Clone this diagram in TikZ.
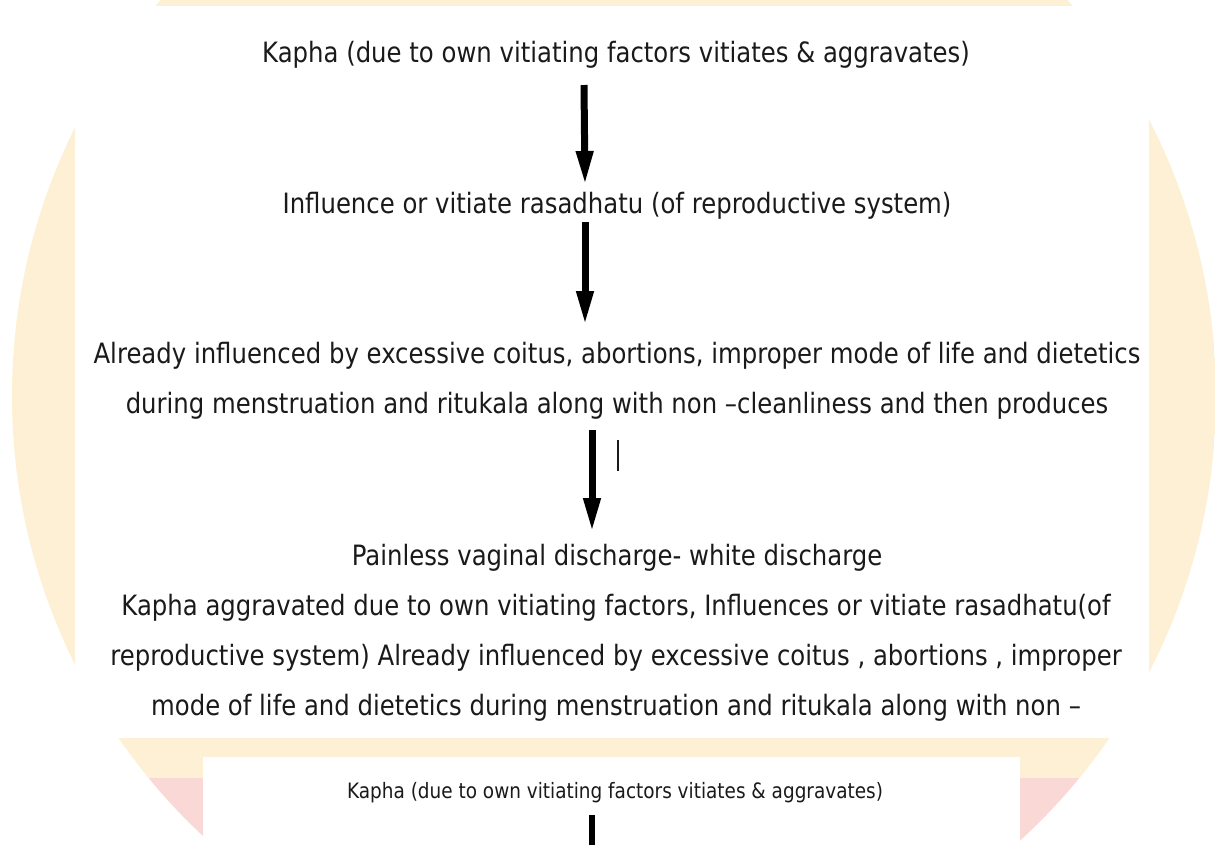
\documentclass[tikz,border=0pt]{standalone}
\usepackage{fontspec}
\setmainfont{DejaVu Sans}[FakeStretch=0.87]
\usepackage{xcolor}
\usetikzlibrary{arrows.meta}
\definecolor{wmorange}{RGB}{254,240,212}
\definecolor{wmpink}{RGB}{250,216,214}
\definecolor{inkgray}{RGB}{26,26,26}

\begin{document}
\begin{tikzpicture}[x=0.75pt,y=0.75pt,yscale=-1,xscale=1,
  flowtext/.style={inner sep=0pt, align=center, text=inkgray, font=\fontsize{21}{37.5}\selectfont},
  smalltext/.style={inner sep=0pt, align=center, text=inkgray, font=\fontsize{15.9}{28}\selectfont},
  bigarrow/.style={line width=5.25pt, -{Triangle[length=25.5pt, width=12pt]}},
  shaft/.style={line width=4pt}]
\clip (0,0) rectangle (1215,844);

%Shape: Watermark
\fill[white] (0,0) rectangle (1215,844);
\begin{scope}
\clip (614,396) circle (602);
\fill[wmorange] (0,0) rectangle (1215,844);
\fill[wmpink] (0,778) rectangle (1215,844);
\end{scope}
%Shape: Rectangle
\fill[white] (75,6) rectangle (1149,738);
%Shape: Rectangle
\fill[white] (203,757) rectangle (1020,844);

% Text Node
\node[flowtext] (kapha) at (616,54.5) {Kapha (due to own vitiating factors vitiates \& aggravates)};
% Text Node
\node[flowtext] (rasa) at (617,205.5) {Influence or vitiate rasadhatu (of reproductive system)};
% Text Node
\node[flowtext] (already) at (617,380.5) {Already influenced by excessive coitus, abortions, improper mode of life and dietetics\\during menstruation and ritukala along with non –cleanliness and then produces};
% Text Node
\node[flowtext] (painless) at (617,557.5) {Painless vaginal discharge- white discharge};
% Text Node
\node[flowtext] (summary) at (616,657.5) {Kapha aggravated due to own vitiating factors, Influences or vitiate rasadhatu(of\\reproductive system) Already influenced by excessive coitus , abortions , improper\\mode of life and dietetics during menstruation and ritukala along with non –};
% Text Node
\node[smalltext] (kaphab) at (615,792.5) {Kapha (due to own vitiating factors vitiates \& aggravates)};

%Straight Lines
\draw[bigarrow] ([xshift=-24pt,yshift=22.875pt]kapha.center) -- ([xshift=-24pt,yshift=-15.375pt]rasa.center);
%Straight Lines
\draw[bigarrow] ([xshift=-24pt,yshift=12.375pt]rasa.center) -- ([xshift=-24pt,yshift=-41.625pt]already.center);
%Straight Lines
\draw[bigarrow] ([xshift=-18.75pt,yshift=37.125pt]already.center) -- ([xshift=-18.75pt,yshift=-19.125pt]painless.center);
%Straight Lines
\draw[inkgray, line width=1.2pt] ([xshift=0.75pt,yshift=44.625pt]already.center) -- ([xshift=0.75pt,yshift=67.875pt]already.center);
%Straight Lines
\draw[shaft] ([xshift=-17.25pt,yshift=16.875pt]kaphab.center) -- ([xshift=-17.25pt,yshift=43.125pt]kaphab.center);

\end{tikzpicture}
\end{document}
